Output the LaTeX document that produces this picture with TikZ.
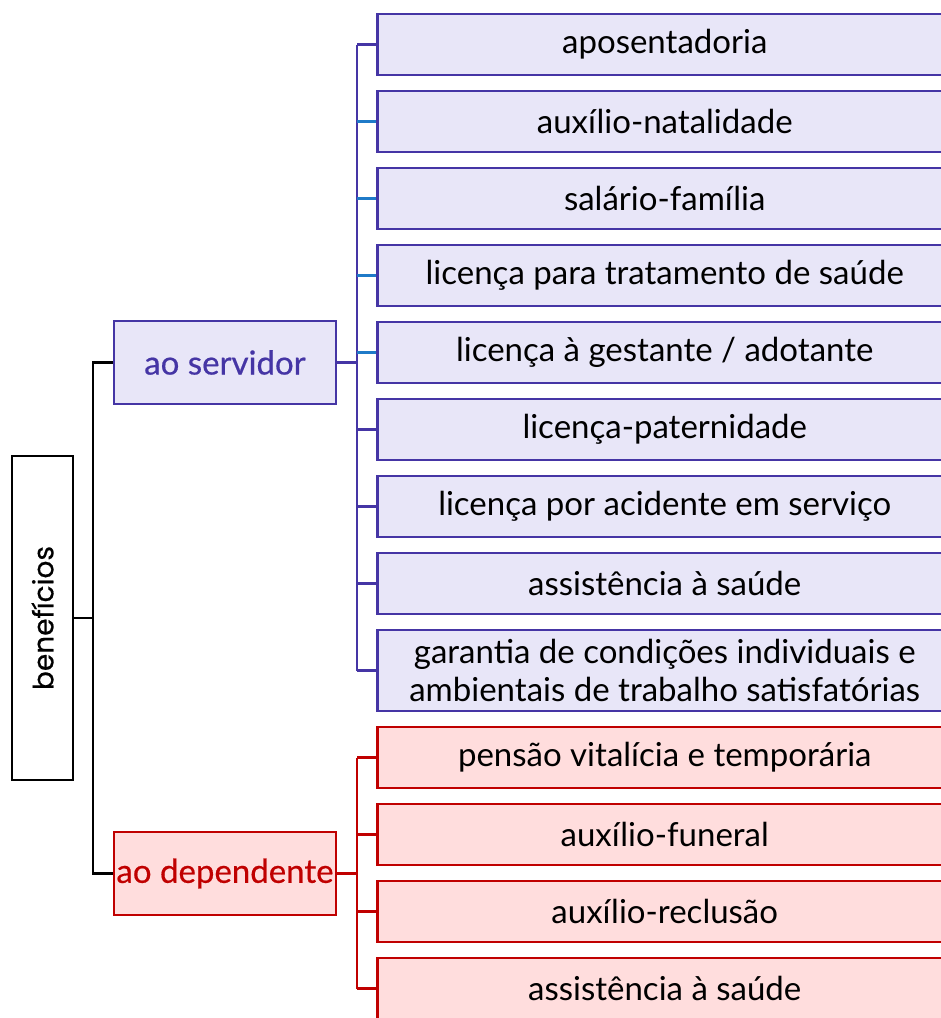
\documentclass[tikz,border=0pt]{standalone}
\usepackage{fontspec}
\setmainfont{Lato}
\newfontfamily\popfont[FakeBold=0.6]{Poppins}
\newfontfamily\midfont[FakeBold=0.5]{Lato}
\definecolor{pur}{RGB}{69,53,165}
\definecolor{lav}{RGB}{232,230,248}
\definecolor{lblue}{RGB}{31,122,200}
\definecolor{redd}{RGB}{192,0,0}
\definecolor{pnk}{RGB}{255,221,221}
\tikzset{
  conn/.style={line width=2.5pt},
  sbox/.style={draw=pur, fill=lav, line width=2.5pt, minimum width=575pt, minimum height=61pt,
    anchor=west, align=center, inner sep=0pt, font=\fontsize{33}{38}\selectfont},
  dbox/.style={sbox, draw=redd, fill=pnk},
  midbox/.style={line width=2.5pt, minimum width=222pt, minimum height=83pt, inner sep=0pt,
    font=\midfont\fontsize{33}{38}\selectfont},
}
\begin{document}
\begin{tikzpicture}[x=1pt,y=-1pt]
\useasboundingbox (0,0) rectangle (941,1018);
\clip (0,0) rectangle (941,1018);
\fill[white] (0,0) rectangle (941,1018);
% root
\node[draw=black, line width=2.5pt, rotate=90, minimum width=324pt, minimum height=61pt, inner sep=0pt,
  font=\popfont\fontsize{28}{32}\selectfont] (ben) at (42.5,618) {benefícios};
% middle
\node[midbox, draw=pur, fill=lav, text=pur] (srv) at (225,362.5) {ao servidor};
\node[midbox, draw=redd, fill=pnk, text=redd] (dep) at (225,873.5) {ao dependente};
% servant children
\node[sbox] (s1) at (376,44.5) {aposentadoria};
\node[sbox] (s2) at (376,121.5) {auxílio-natalidade};
\node[sbox] (s3) at (376,198.5) {salário-família};
\node[sbox] (s4) at (376,275.5) {licença para tratamento de saúde};
\node[sbox] (s5) at (376,352.5) {licença à gestante / adotante};
\node[sbox] (s6) at (376,429.5) {licença-paternidade};
\node[sbox] (s7) at (376,506.5) {licença por acidente em serviço};
\node[sbox] (s8) at (376,583.5) {assistência à saúde};
\node[sbox, minimum height=81pt] (s9) at (376,670.5) {garantia de condições individuais e\\ambientais de trabalho satisfatórias};
% dependent children
\node[dbox] (d1) at (376,757.5) {pensão vitalícia e temporária};
\node[dbox] (d2) at (376,834.5) {auxílio-funeral};
\node[dbox] (d3) at (376,911.5) {auxílio-reclusão};
\node[dbox] (d4) at (376,988.5) {assistência à saúde};
% coordinates
\coordinate (trunk) at (93,618);
\coordinate (sbus) at (357,0);
% black tree
\draw[conn, black] (ben.south) -- (trunk);
\draw[conn, black] (srv.west) -| (trunk) |- (dep.west);
% servant bus
\draw[conn, pur] (sbus |- s1.west) -- (sbus |- s9.west);
\draw[conn, pur] (srv.east) -- (sbus |- srv.east);
\foreach \n in {s1,s6,s7,s8,s9} \draw[conn, pur] (sbus |- \n.west) -- (\n.west);
\foreach \n in {s2,s3,s4,s5} \draw[conn, lblue] (sbus |- \n.west) -- (\n.west);
% dependent bus
\draw[conn, redd] (sbus |- d1.west) -- (sbus |- d4.west);
\draw[conn, redd] (dep.east) -- (sbus |- dep.east);
\foreach \n in {d1,d2,d3,d4} \draw[conn, redd] (sbus |- \n.west) -- (\n.west);
\end{tikzpicture}
\end{document}
